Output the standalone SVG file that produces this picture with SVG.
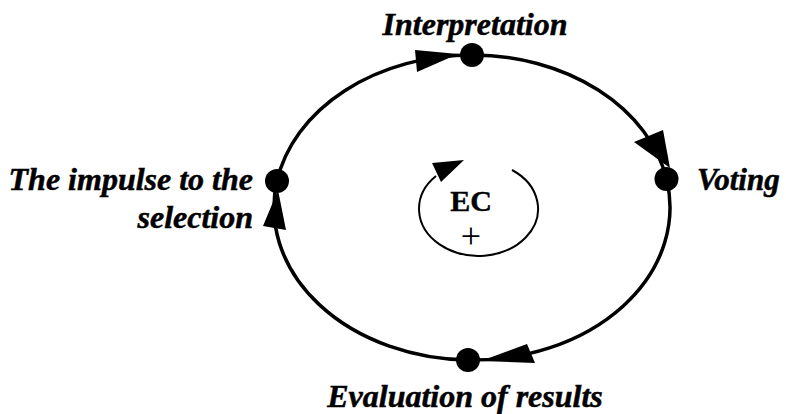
<svg xmlns="http://www.w3.org/2000/svg" width="786" height="414" viewBox="0 0 786 414">
<style>
.conn{fill:none;stroke:#000;stroke-width:3.5}
.head{fill:#000;stroke:none}
.dot{fill:#000}
.lbl{font-family:'Liberation Serif','Times New Roman',serif;font-weight:bold;font-style:italic;font-size:32px;fill:#000;stroke:#000;stroke-width:0.5}
.ec{font-family:'Liberation Serif','Times New Roman',serif;font-weight:bold;font-size:30px;fill:#000;stroke:#000;stroke-width:0.4}
.plus{font-family:'Liberation Serif','Times New Roman',serif;font-size:36px;fill:#000}
.inner{fill:none;stroke:#000;stroke-width:2}
</style>
<rect width="786" height="414" fill="#fff"/>
<g id="connectors">
<path class="conn" d="M277,181 A198,152.5 0 0 1 472,55"/>
<polygon class="head" points="415,50 417,72 458,54"/>
<path class="conn" d="M472,55 A198,152.5 0 0 1 666.5,179"/>
<polygon class="head" points="634,142 663,130 670,168"/>
<path class="conn" d="M666.5,179 A198,152.5 0 0 1 468,360"/>
<polygon class="head" points="527,344 535,363 481,361"/>
<path class="conn" d="M468,360 A198,152.5 0 0 1 277,181"/>
<polygon class="head" points="263,226 286,230 278,190"/>
</g>
<g id="node-interpretation">
<circle class="dot" cx="472" cy="55" r="12"/>
<text class="lbl" x="475" y="35" text-anchor="middle">Interpretation</text>
</g>
<g id="node-voting">
<circle class="dot" cx="666.5" cy="179" r="12"/>
<text class="lbl" x="697" y="190" style="font-size:31px">Voting</text>
</g>
<g id="node-evaluation">
<circle class="dot" cx="468" cy="360" r="12"/>
<text class="lbl" x="465" y="407" text-anchor="middle">Evaluation of results</text>
</g>
<g id="node-impulse">
<circle class="dot" cx="277" cy="181" r="12"/>
<text class="lbl" x="253" y="190" text-anchor="end">The impulse to the</text>
<text class="lbl" x="253" y="228" text-anchor="end">selection</text>
</g>
<g id="loop-ec">
<path class="inner" d="M512,170 A59.5,47 0 1 1 436,176"/>
<polygon class="head" points="432,163 441,182 464,160"/>
<text class="ec" x="471" y="211" text-anchor="middle">EC</text>
<text class="plus" x="471" y="248" text-anchor="middle">+</text>
</g>
</svg>
